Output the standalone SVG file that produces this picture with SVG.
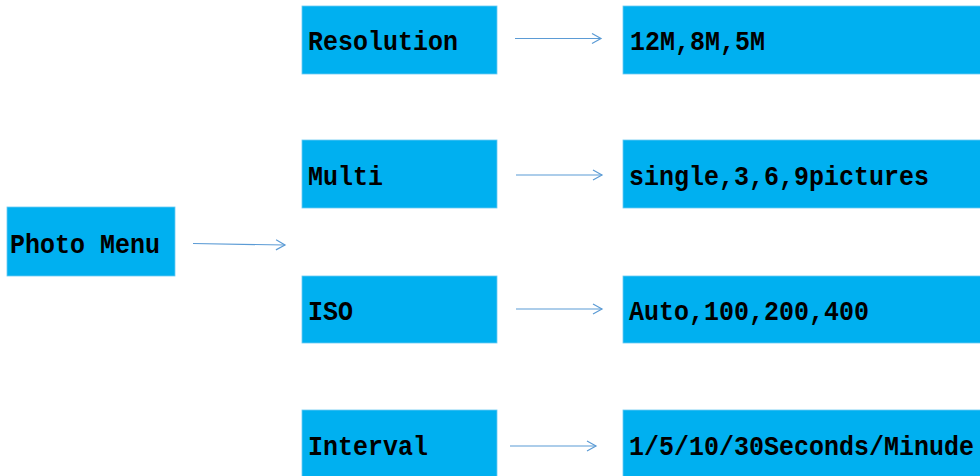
<svg xmlns="http://www.w3.org/2000/svg" width="980" height="476" viewBox="0 0 980 476">
<style>
.box{fill:#00B0F0;stroke:#6CCBF3;stroke-width:0.8}
.t{font-family:"Liberation Mono","DejaVu Sans Mono",monospace;font-size:25px;font-weight:bold;fill:#000}
.c{stroke:#5B9BD5;stroke-width:1.2;fill:none}
</style>
<defs>
<marker id="ah" markerWidth="12" markerHeight="12" refX="10" refY="6" orient="auto" markerUnits="userSpaceOnUse">
<path d="M1,1 L10,6 L1,11" fill="none" stroke="#5B9BD5" stroke-width="1.2"/>
</marker>
</defs>
<rect width="980" height="476" fill="#fff"/>
<g id="photo-menu"><rect class="box" x="7" y="207" width="168" height="69"/><text class="t" transform="translate(10,253) scale(1,1.12)">Photo Menu</text></g>
<g id="resolution"><rect class="box" x="302" y="6" width="195" height="68"/><text class="t" transform="translate(308,50) scale(1,1.12)">Resolution</text></g>
<g id="multi"><rect class="box" x="302" y="140" width="195" height="68"/><text class="t" transform="translate(308,185) scale(1,1.12)">Multi</text></g>
<g id="iso"><rect class="box" x="302" y="276" width="195" height="67"/><text class="t" transform="translate(308,320) scale(1,1.12)">ISO</text></g>
<g id="interval"><rect class="box" x="302" y="410" width="195" height="68"/><text class="t" transform="translate(308,455) scale(1,1.12)">Interval</text></g>
<g id="res-values"><rect class="box" x="623" y="6" width="360" height="68"/><text class="t" transform="translate(630,50) scale(1,1.12)">12M,8M,5M</text></g>
<g id="multi-values"><rect class="box" x="623" y="140" width="360" height="68"/><text class="t" transform="translate(629,185) scale(1,1.12)">single,3,6,9pictures</text></g>
<g id="iso-values"><rect class="box" x="623" y="276" width="360" height="67"/><text class="t" transform="translate(629,320) scale(1,1.12)">Auto,100,200,400</text></g>
<g id="interval-values"><rect class="box" x="623" y="410" width="360" height="68"/><text class="t" transform="translate(629,455) scale(1,1.12)">1/5/10/30Seconds/Minude</text></g>
<g id="connectors">
<line class="c" x1="193" y1="243.5" x2="285" y2="245" marker-end="url(#ah)"/>
<line class="c" x1="515" y1="38.5" x2="601" y2="38.5" marker-end="url(#ah)"/>
<line class="c" x1="516" y1="175" x2="602" y2="175" marker-end="url(#ah)"/>
<line class="c" x1="516" y1="309" x2="602" y2="309" marker-end="url(#ah)"/>
<line class="c" x1="510" y1="446" x2="596" y2="446" marker-end="url(#ah)"/>
</g>
</svg>
